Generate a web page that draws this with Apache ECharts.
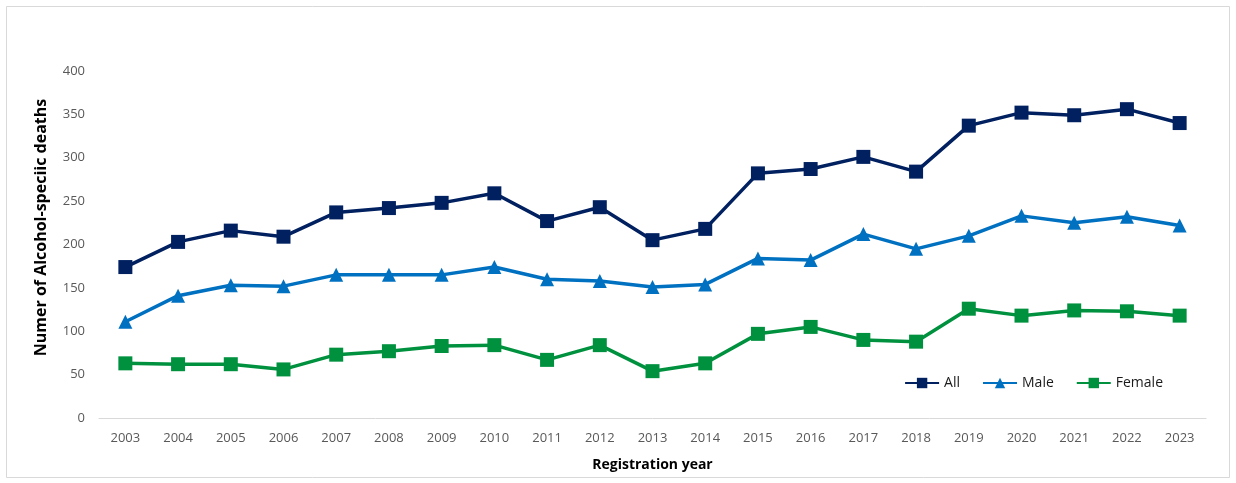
<!DOCTYPE html>
<html>
<head>
<meta charset="utf-8">
<script src="https://cdn.jsdelivr.net/npm/echarts@6/dist/echarts.min.js"></script>
<style>
html,body{margin:0;padding:0;background:#fff;}
#chart{width:1236px;height:483px;}
</style>
</head>
<body>
<div id="chart"></div>
<script>
const years = ['2003','2004','2005','2006','2007','2008','2009','2010','2011','2012','2013','2014','2015','2016','2017','2018','2019','2020','2021','2022','2023'];
const allDeaths = [174,203,216,209,237,242,248,259,227,243,205,218,282,287,301,284,337,352,349,356,340];
const maleDeaths = [111,141,153,152,165,165,165,174,160,158,151,154,184,182,212,195,210,233,225,232,222];
const femaleDeaths = [63,62,62,56,73,77,83,84,67,84,54,63,97,105,90,88,126,118,124,123,118];
const yTicks = {min:0, max:400, interval:50};

const chart = echarts.init(document.getElementById('chart'));
const font = 'Open Sans, Liberation Sans, sans-serif';
function mk(name, data, color, symbol, size){
  return {
    name, type:'line', data, symbol, symbolSize:size,
    lineStyle:{color, width:3.5}, itemStyle:{color},
    showSymbol:true
  };
}
chart.setOption({
  animation:false,
  graphic:[{type:'rect', shape:{x:6.5,y:6.5,width:1223,height:471}, style:{fill:null, stroke:'#d9d9d9', lineWidth:1}, silent:true}],
  grid:{left:99, right:30, top:71, bottom:65},
  legend:{
    right:68, top:371, itemWidth:34, itemHeight:13, itemGap:22,
    textStyle:{fontFamily:font, fontSize:14, color:'#1a1a1a'},
    data:['All','Male','Female']
  },
  xAxis:{
    type:'category', data:years, boundaryGap:true,
    name:'Registration year', nameLocation:'middle', nameGap:40,
    nameTextStyle:{fontFamily:font, fontSize:14, fontWeight:'bold', color:'#000'},
    axisLine:{lineStyle:{color:'#d9d9d9', width:1}},
    axisTick:{show:false},
    axisLabel:{fontFamily:font, fontSize:13, color:'#595959', margin:14}
  },
  yAxis:{
    type:'value', min:yTicks.min, max:yTicks.max, interval:yTicks.interval,
    name:'Numer of Alcohol-speciic deaths', nameLocation:'middle', nameGap:50,
    nameTextStyle:{fontFamily:font, fontSize:16, fontWeight:'bold', color:'#000', padding:[0,0,0,34]},
    axisLine:{show:false}, axisTick:{show:false}, splitLine:{show:false},
    axisLabel:{fontFamily:font, fontSize:13, color:'#595959', margin:14}
  },
  series:[
    mk('All', allDeaths, '#002060', 'rect', 14),
    mk('Male', maleDeaths, '#0070c0', 'triangle', 14),
    mk('Female', femaleDeaths, '#00913f', 'rect', 14)
  ]
});
</script>
</body>
</html>
